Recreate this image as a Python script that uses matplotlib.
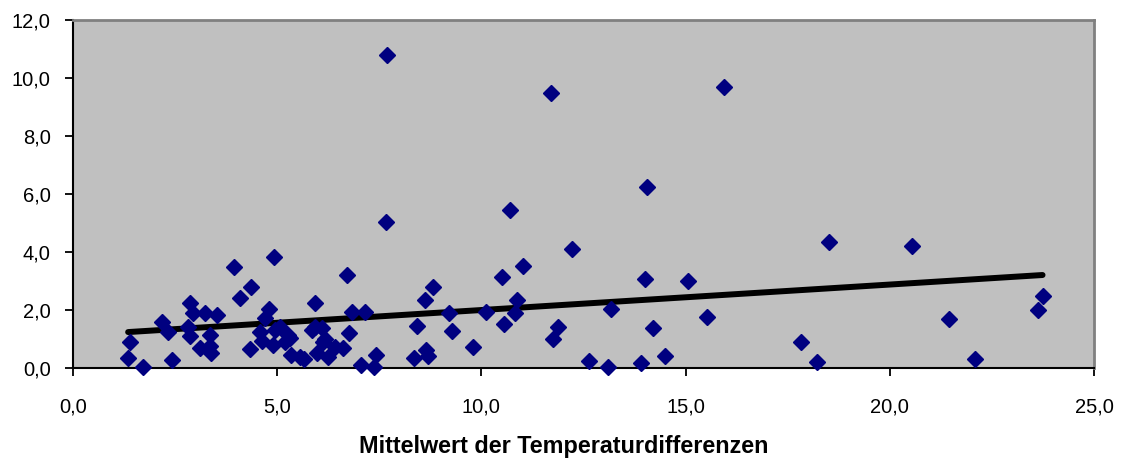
import numpy as np
import matplotlib
matplotlib.use("Agg")
import matplotlib.pyplot as plt

x_vals = [1.35, 1.40, 1.72, 2.17, 2.33, 2.42, 2.82, 2.86, 2.86, 2.95,
          3.11, 3.24, 3.35, 3.35, 3.38, 3.52, 3.94, 4.10, 4.37, 4.34,
          4.58, 4.62, 4.70, 4.80, 4.93, 4.90, 4.95, 5.07, 5.19, 5.27,
          5.31, 5.33, 5.56, 5.65, 5.84, 5.93, 5.93, 5.97, 6.09, 6.13,
          6.17, 6.25, 6.42, 6.62, 6.72, 6.76, 6.84, 7.05, 7.15, 7.37,
          7.43, 7.66, 7.68, 8.36, 8.43, 8.62, 8.64, 8.70, 8.82, 9.21,
          9.27, 9.80, 10.11, 10.51, 10.56, 10.70, 10.82, 10.86, 11.01, 11.70,
          11.75, 11.88, 12.23, 12.63, 13.09, 13.17, 13.92, 14.01, 14.06, 14.20,
          14.49, 15.07, 15.53, 15.94, 17.82, 18.21, 18.52, 20.54, 21.44, 22.09,
          23.64, 23.74]
y_vals = [0.33, 0.88, 0.03, 1.60, 1.25, 0.28, 1.40, 2.23, 1.10, 1.89,
          0.68, 1.89, 1.14, 0.77, 0.51, 1.83, 3.47, 2.40, 2.78, 0.64,
          1.25, 0.94, 1.72, 2.02, 3.84, 0.80, 1.31, 1.42, 0.91, 1.14,
          1.05, 0.45, 0.39, 0.30, 1.31, 2.25, 1.40, 0.51, 1.37, 0.90,
          1.00, 0.39, 0.74, 0.68, 3.20, 1.19, 1.92, 0.12, 1.94, 0.05,
          0.45, 5.02, 10.79, 0.33, 1.45, 2.34, 0.62, 0.40, 2.78, 1.91,
          1.28, 0.71, 1.92, 3.13, 1.52, 5.45, 1.89, 2.34, 3.52, 9.49,
          1.00, 1.42, 4.09, 0.25, 0.02, 2.02, 0.18, 3.08, 6.25, 1.39,
          0.43, 3.00, 1.77, 9.70, 0.89, 0.20, 4.34, 4.22, 1.68, 0.30,
          2.00, 2.49]

x_ticks = [0, 5, 10, 15, 20, 25]
x_tick_labels = ["0,0", "5,0", "10,0", "15,0", "20,0", "25,0"]
y_ticks = [0, 2, 4, 6, 8, 10, 12]
y_tick_labels = ["0,0", "2,0", "4,0", "6,0", "8,0", "10,0", "12,0"]
x_label = "Mittelwert der Temperaturdifferenzen"

plt.rcParams['font.family'] = ['Liberation Sans', 'DejaVu Sans']

fig = plt.figure(figsize=(11.21, 4.74), dpi=100)
ax = fig.add_axes([73/1121, 106/474, (1094-73)/1121, (368-20)/474])
ax.set_facecolor("#C0C0C0")

x = np.array(x_vals)
y = np.array(y_vals)
slope, intercept = np.polyfit(x, y, 1)
tx = np.array([x.min(), x.max()])
ax.plot(tx, slope * tx + intercept, color="black", lw=4.3, solid_capstyle="round", zorder=3)

ax.plot(x, y, linestyle="none", marker="D", markersize=8.3, color="#000080",
        markeredgecolor="#000080", clip_on=False, zorder=4)

ax.set_xlim(0, 25)
ax.set_ylim(0, 12)
ax.set_xticks(x_ticks)
ax.set_xticklabels(x_tick_labels)
ax.set_yticks(y_ticks)
ax.set_yticklabels(y_tick_labels)
ax.tick_params(axis="both", direction="out", length=6, width=1.3, colors="black",
               labelsize=14.5, pad=15)
ax.tick_params(axis="y", pad=10)

for s in ["left", "bottom"]:
    ax.spines[s].set_color("black")
    ax.spines[s].set_linewidth(1.5)
for s in ["top", "right"]:
    ax.spines[s].set_color("#808080")
    ax.spines[s].set_linewidth(2.0)

fig.text(564/1121, (474-447)/474, x_label, ha="center", va="center",
         fontsize=16.8, fontweight="bold")

fig.savefig("out.png", dpi=100)
